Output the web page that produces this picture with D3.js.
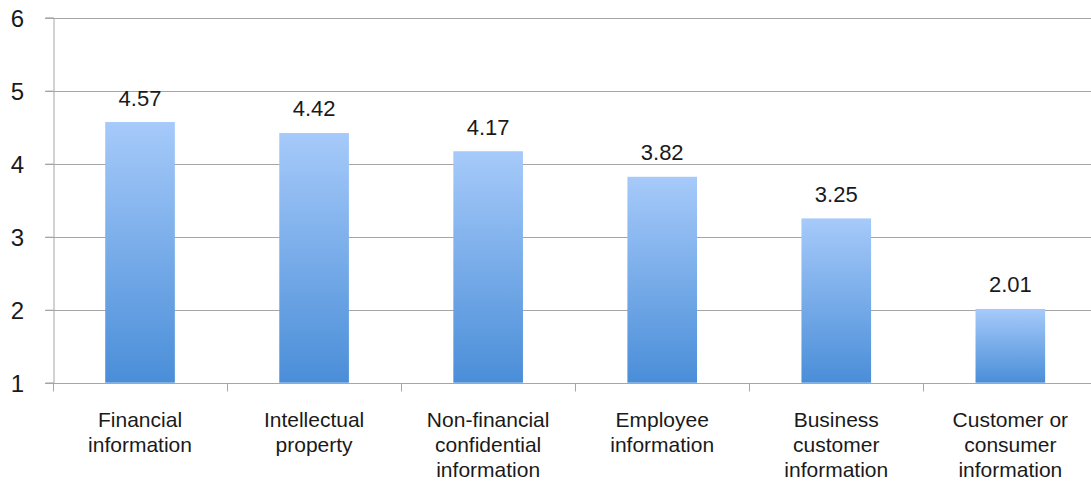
<!DOCTYPE html>
<html>
<head>
<meta charset="utf-8">
<script src="https://cdn.jsdelivr.net/npm/d3@7"></script>
<style>
  html, body { margin: 0; padding: 0; background: #fff; }
  svg { display: block; }
  text { font-family: "Liberation Sans", Arial, Helvetica, sans-serif; fill: #1a1a1a; }
</style>
</head>
<body>
<svg id="chart" width="1091" height="481"></svg>
<script>
const categories = [
  ["Financial", "information"],
  ["Intellectual", "property"],
  ["Non-financial", "confidential", "information"],
  ["Employee", "information"],
  ["Business", "customer", "information"],
  ["Customer or", "consumer", "information"]
];
const values = [4.57, 4.42, 4.17, 3.82, 3.25, 2.01];
const yTicks = [1, 2, 3, 4, 5, 6];

const svg = d3.select("#chart");
const margin = { left: 53, top: 17.6, bottom: 382.7 };
const bandW = 174.06;
const plotRight = margin.left + bandW * categories.length;

const x = d3.scaleBand()
  .domain(d3.range(categories.length))
  .range([margin.left, plotRight])
  .paddingInner(0.6)
  .paddingOuter(0.3);

const y = d3.scaleLinear().domain([1, 6]).range([margin.bottom, margin.top]);

// gradient
const defs = svg.append("defs");
const grad = defs.append("linearGradient")
  .attr("id", "barGrad").attr("x1", 0).attr("y1", 0).attr("x2", 0).attr("y2", 1);
grad.append("stop").attr("offset", "0%").attr("stop-color", "#a6cafa");
grad.append("stop").attr("offset", "100%").attr("stop-color", "#4a8ed8");

// gridlines
svg.append("g")
  .selectAll("line")
  .data(yTicks.filter(d => d > 1))
  .join("line")
  .attr("x1", margin.left - 8)
  .attr("x2", 1091)
  .attr("y1", d => Math.round(y(d)) + 0.5)
  .attr("y2", d => Math.round(y(d)) + 0.5)
  .attr("stroke", "#a6a6a6")
  .attr("stroke-width", 1);

// y axis
const yAxis = svg.append("g")
  .attr("transform", `translate(${margin.left + 0.5},0)`)
  .call(d3.axisLeft(y).tickValues(yTicks).tickSize(8).tickPadding(21.5).tickFormat(d3.format("d")));
yAxis.attr("font-size", null).attr("font-family", null);
yAxis.select(".domain").attr("stroke", "#a6a6a6");
yAxis.selectAll(".tick line").attr("stroke", "#a6a6a6");
yAxis.selectAll(".tick text")
  .attr("fill", "#1a1a1a")
  .attr("dy", "0.36em")
  .style("font-size", "24px")
  .style("font-family", '"Liberation Sans", Arial, sans-serif');

// bars
svg.append("g")
  .selectAll("rect")
  .data(values)
  .join("rect")
  .attr("x", (d, i) => x(i))
  .attr("width", x.bandwidth())
  .attr("y", d => y(d))
  .attr("height", d => y(1) - y(d))
  .attr("fill", "url(#barGrad)");

// x axis line + ticks at band boundaries
const xg = svg.append("g");
xg.append("line")
  .attr("x1", margin.left - 8).attr("x2", 1091)
  .attr("y1", Math.round(y(1)) + 0.5).attr("y2", Math.round(y(1)) + 0.5)
  .attr("stroke", "#a6a6a6");
xg.selectAll("line.tick")
  .data(d3.range(categories.length + 1))
  .join("line")
  .attr("class", "tick")
  .attr("x1", i => Math.round(margin.left + i * bandW) + 0.5)
  .attr("x2", i => Math.round(margin.left + i * bandW) + 0.5)
  .attr("y1", Math.round(y(1)) + 0.5)
  .attr("y2", Math.round(y(1)) + 8.5)
  .attr("stroke", "#a6a6a6");

// category labels
const labels = svg.append("g")
  .selectAll("text")
  .data(categories)
  .join("text")
  .attr("text-anchor", "middle")
  .style("font-size", "21px")
  .attr("x", (d, i) => x(i) + x.bandwidth() / 2)
  .attr("y", 426.5);
labels.selectAll("tspan")
  .data(d => d)
  .join("tspan")
  .attr("x", function() { return d3.select(this.parentNode).attr("x"); })
  .attr("dy", (d, j) => j === 0 ? 0 : 25.2)
  .text(d => d);

// value labels
svg.append("g")
  .selectAll("text")
  .data(values)
  .join("text")
  .attr("text-anchor", "middle")
  .style("font-size", "22px")
  .attr("x", (d, i) => x(i) + x.bandwidth() / 2)
  .attr("y", d => y(d) - 16.5)
  .text(d => d3.format(".2f")(d));
</script>
</body>
</html>
